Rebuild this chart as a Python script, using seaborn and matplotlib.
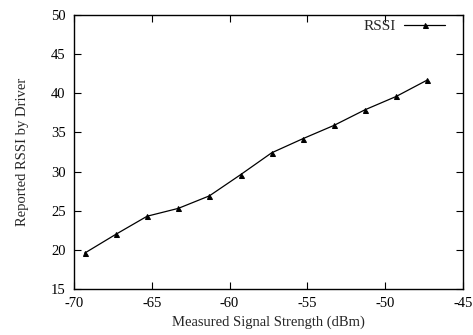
import numpy as np
import pandas as pd
import matplotlib
matplotlib.use("Agg")
import matplotlib.pyplot as plt
import seaborn as sns

# Data
measured_dbm = [-69.3, -67.3, -65.3, -63.3, -61.3, -59.3, -57.3, -55.3, -53.3, -51.3, -49.3, -47.3]
reported_rssi = [19.6, 22.0, 24.3, 25.3, 26.9, 29.6, 32.4, 34.2, 35.9, 37.9, 39.6, 41.7]
series_name = "RSSI"

x_ticks = [-70, -65, -60, -55, -50, -45]
y_ticks = [15, 20, 25, 30, 35, 40, 45, 50]

sns.set_style("ticks")
plt.rcParams['font.family'] = ['Liberation Serif', 'DejaVu Serif']
plt.rcParams['font.size'] = 10.5
plt.rcParams['axes.unicode_minus'] = False

df = pd.DataFrame({"x": measured_dbm, "y": reported_rssi, "series": series_name})

fig = plt.figure(figsize=(4.73, 3.35), dpi=100)
ax = fig.add_axes([0.1564, 0.1373, 0.8226, 0.8177])

sns.lineplot(data=df, x="x", y="y", hue="series", palette=["black"],
             marker="^", markersize=3.6, linewidth=0.9, markeredgecolor="black",
             ax=ax)

ax.set_xlim(-70, -45)
ax.set_ylim(15, 50)
ax.set_xticks(x_ticks)
ax.set_yticks(y_ticks)
ax.tick_params(direction="in", top=True, right=True, length=5, width=0.8,
               labelsize=10.5, colors="black", pad=6)
for side in ax.spines.values():
    side.set_visible(True)
    side.set_linewidth(1.0)
    side.set_color("black")

ax.set_xlabel("Measured Signal Strength (dBm)", fontsize=10.5, labelpad=4)
ax.set_ylabel("Reported RSSI by Driver", fontsize=10.5, labelpad=16)

leg = ax.legend(loc="upper right", bbox_to_anchor=(0.954, 0.985), frameon=False,
                markerfirst=False, fontsize=11, handlelength=2.7,
                handletextpad=0.5, borderaxespad=0, borderpad=0)

fig.savefig("out.png", dpi=100)
